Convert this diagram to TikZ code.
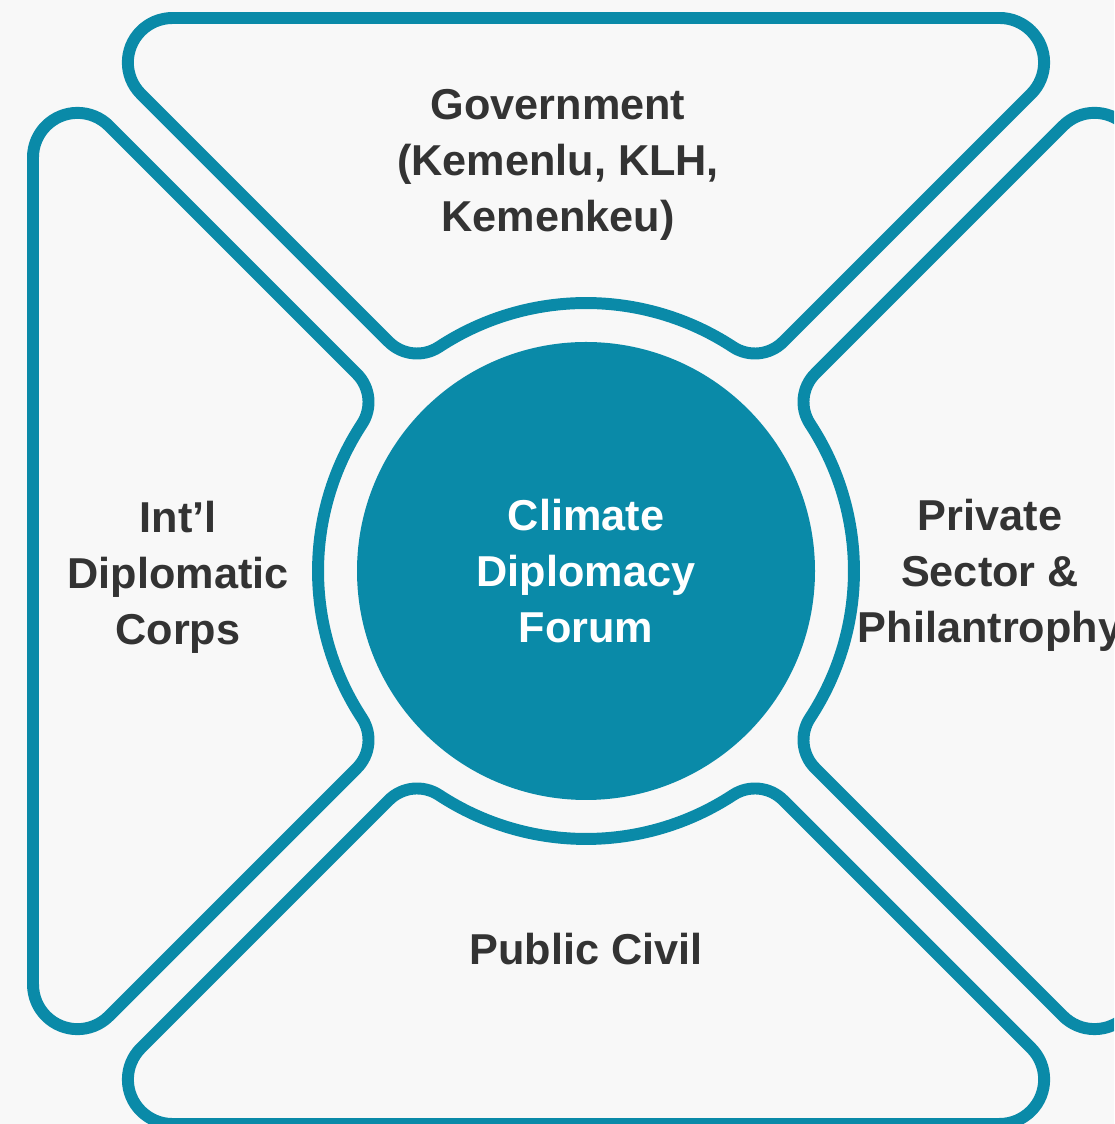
\documentclass[tikz,border=0pt]{standalone}
\usepackage{fontspec}
\setsansfont{Liberation Sans}
\usetikzlibrary{positioning}

\definecolor{forumteal}{HTML}{0A8AA8}
\definecolor{labelgray}{HTML}{333333}
\definecolor{paper}{HTML}{F8F8F8}

\begin{document}
\begin{tikzpicture}[
		font=\sffamily\bfseries\fontsize{12.3}{15.9}\selectfont,
		% Style for the outlined sectors
		petal line/.style={draw=forumteal, line width=3.4pt, line join=round},
		% One sector, drawn pointing up; the others are rotated copies
		petal/.pic={
			\draw[petal line] (-4.136,5.53) -- (4.136,5.53)
				arc[start angle=90, end angle=-45, radius=0.445] -- (1.972,2.292)
				arc[start angle=-45, end angle=-123.27, radius=0.40]
				arc[start angle=56.73, end angle=123.27, radius=2.68]
				arc[start angle=-56.73, end angle=-135, radius=0.40] -- (-4.451,4.770)
				arc[start angle=-135, end angle=-270, radius=0.445] -- cycle;
		},
		% Central forum disc
		hub/.style={circle, fill=forumteal, minimum size=4.58cm, inner sep=0pt, text=white, align=center},
		% Stakeholder labels
		group label/.style={text=labelgray, align=center}
		]
		
		% ==============================================================================
		% CANVAS
		% ==============================================================================
		\useasboundingbox (-5.86,-5.53) rectangle (5.28,5.71);
		\clip (-5.86,-5.53) rectangle (5.28,5.71);
		\fill[paper] (-5.86,-5.53) rectangle (5.28,5.71);
		
		% --- 1. The four sectors ---
		\pic[rotate=0] (sec_top) at (0,0) {petal};
		\pic[rotate=90] (sec_left) at (0,0) {petal};
		\pic[rotate=180] (sec_bottom) at (0,0) {petal};
		\pic[rotate=270] (sec_right) at (0,0) {petal};
		
		% --- 2. The forum in the middle ---
		\node[hub] (forum) at (0,0) {Climate\\Diplomacy\\Forum};
		
		% --- 3. Stakeholder labels ---
		\node[group label] (gov) at (-0.28,4.06) {Government\\(Kemenlu, KLH,\\Kemenkeu)};
		\node[group label] (corps) at (-4.08,-0.06) {Int’l\\Diplomatic\\Corps};
		\node[group label] (private) at (4.04,-0.04) {Private\\Sector \&\\Philantrophy};
		\node[group label] (public) at (0,-3.78) {Public Civil};
		
	\end{tikzpicture}
\end{document}
